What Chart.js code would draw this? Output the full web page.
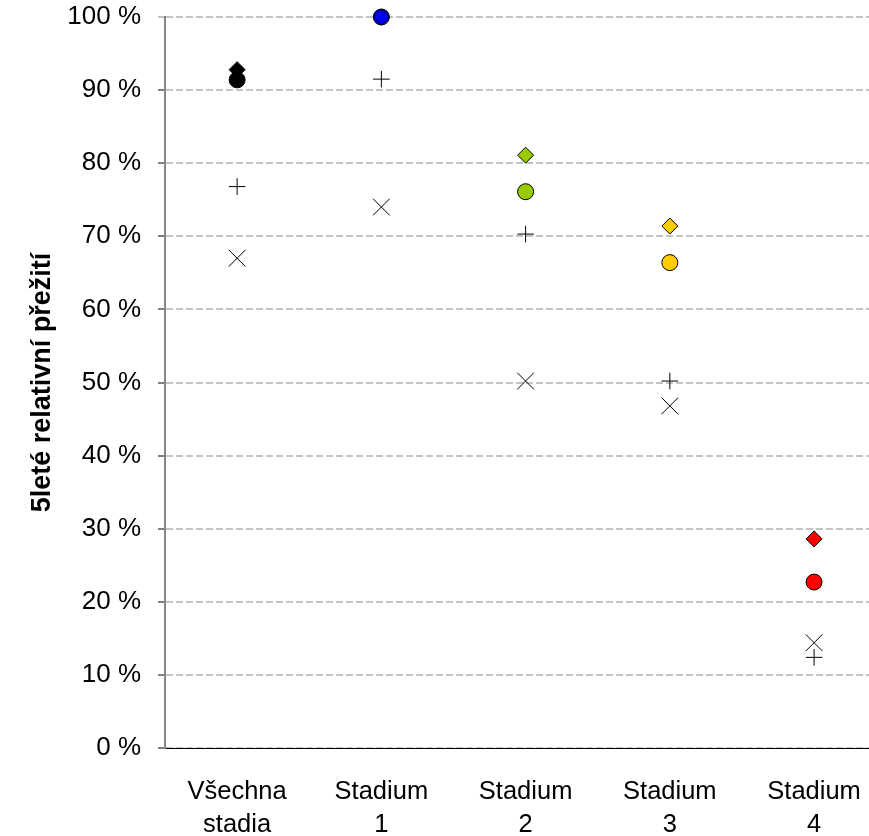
<!DOCTYPE html>
<html>
<head>
<meta charset="utf-8">
<script src="https://cdn.jsdelivr.net/npm/chart.js@4/dist/chart.umd.min.js"></script>
<style>
html,body{margin:0;padding:0;background:#fff;overflow:hidden;}
canvas{display:block;}
</style>
</head>
<body>
<canvas id="c" width="899" height="836"></canvas>
<script>
const categories = [["Všechna","stadia"],["Stadium","1"],["Stadium","2"],["Stadium","3"],["Stadium","4"]];
const circleValues  = [91.4, 100, 76.1, 66.4, 22.7];
const diamondValues = [92.8, 100, 81.1, 71.4, 28.6];
const plusValues    = [76.8, 91.5, 70.3, 50.2, 12.4];
const crossValues   = [67.0, 74.0, 50.2, 46.8, 14.4];
const pointColors   = ["#000000", "#0000FF", "#99CC00", "#FFCC00", "#FF0000"];
const yTicks = [0,10,20,30,40,50,60,70,80,90,100];
const yTitle = "5leté relativní přežití";

const FONT = "'Liberation Sans', Arial, sans-serif";

new Chart(document.getElementById('c'), {
  type: 'scatter',
  data: {
    labels: categories,
    datasets: [
      { label: 'diamond', data: diamondValues, pointStyle: 'rectRot', pointRadius: 8, clip: false,
        backgroundColor: pointColors, borderColor: '#000', borderWidth: 1, showLine: false, order: 0 },
      { label: 'circle', data: circleValues, pointStyle: 'circle', pointRadius: 8, clip: false,
        backgroundColor: pointColors, borderColor: '#000', borderWidth: 1, showLine: false, order: 1 },
      { label: 'plus', data: plusValues, pointStyle: 'cross', pointRadius: 8.3, clip: false,
        backgroundColor: '#000', borderColor: '#000', borderWidth: 1, showLine: false, order: 2 },
      { label: 'x', data: crossValues, pointStyle: 'crossRot', pointRadius: 11.8, clip: false,
        backgroundColor: '#000', borderColor: '#000', borderWidth: 1, showLine: false, order: 3 }
    ]
  },
  options: {
    responsive: false,
    devicePixelRatio: 1,
    animation: false,
    layout: { padding: { top: 17, left: 0, right: 0, bottom: 0 } },
    plugins: { legend: { display: false }, tooltip: { enabled: false } },
    scales: {
      x: {
        type: 'category',
        offset: true,
        grid: { display: false, drawTicks: false },
        border: { display: true, color: '#000', width: 1 },
        ticks: { color: '#000', font: { family: FONT, size: 25.5, lineHeight: 1.28 }, padding: 28, maxRotation: 0, autoSkip: false },
        afterFit: s => { s.height = 88; }
      },
      y: {
        min: 0, max: 100,
        afterBuildTicks: s => { s.ticks = yTicks.map(v => ({ value: v })); },
        grid: { color: '#c4c4c4', lineWidth: 2, tickLength: 7,
                tickColor: ctx => (ctx.tick && ctx.tick.value === 100 ? '#888' : '#000'), tickWidth: 1 },
        border: { display: true, color: '#868686', width: 2, dash: [7, 3] },
        ticks: { color: '#000', font: { family: FONT, size: 26 }, padding: 17,
                 callback: v => v + ' %' },
        title: { display: true, text: yTitle, color: '#000',
                 font: { family: FONT, size: 27, weight: 'bold' }, padding: { top: 26, bottom: 0 } },
        afterFit: s => { s.width = 165; s.paddingTop = 0; s.paddingBottom = 0; }
      }
    }
  }
});
</script>
</body>
</html>
